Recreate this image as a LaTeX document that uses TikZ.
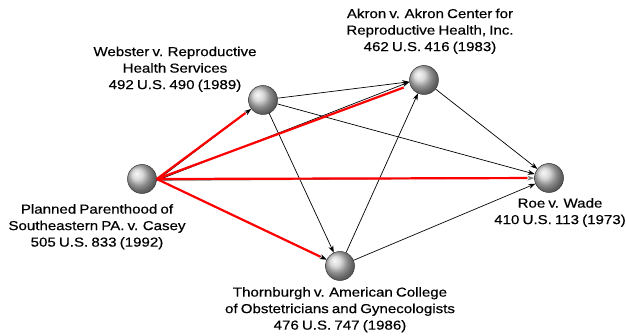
\documentclass[tikz,border=0pt]{standalone}
\usepackage{fontspec}
\setmainfont{Liberation Sans}[FakeStretch=1.16,FakeBold=0.4,WordSpace=0.75]
\usetikzlibrary{arrows.meta}
\begin{document}
\begin{tikzpicture}[x=1pt,y=-1pt,
  ball/.style={circle,minimum size=29pt,inner sep=0pt,shading=ball,ball color=gray!40,draw=gray!40!black,line width=0.5pt},
  lbl/.style={align=center,font=\fontsize{13}{16.5}\selectfont,inner sep=0pt},
  arr/.style={-{Stealth[length=7pt,width=5pt]},line width=0.7pt,black},
  redl/.style={line width=2.2pt,red,shorten >=7pt}]
\useasboundingbox (0,0) rectangle (626,336);
\node[ball] (casey) at (142,179) {};
\node[ball] (web) at (263,100) {};
\node[ball] (akron) at (424,80) {};
\node[ball] (roe) at (549,178) {};
\node[ball] (thorn) at (340,266) {};
\node[lbl,anchor=north] (lcasey) at (97,204) {Planned Parenthood of\\Southeastern PA. v. Casey\\505 U.S. 833 (1992)};
\node[lbl,anchor=south] (lweb) at (175,92) {Webster v. Reproductive\\Health Services\\492 U.S. 490 (1989)};
\node[lbl,anchor=south] (lakron) at (430,54) {Akron v. Akron Center for\\Reproductive Health, Inc.\\462 U.S. 416 (1983)};
\node[lbl,anchor=north] (lroe) at (560,198) {Roe v. Wade\\410 U.S. 113 (1973)};
\node[lbl,anchor=north] (lthorn) at (340,287) {Thornburgh v. American College\\of Obstetricians and Gynecologists\\476 U.S. 747 (1986)};
\draw[arr] (web) -- (akron);
\draw[arr] (web) -- (roe);
\draw[arr] (web) -- (thorn);
\draw[arr] (akron) -- (roe);
\draw[arr] (thorn) -- (akron);
\draw[arr] (thorn) -- (roe);
\draw[arr] ([yshift=-1.5pt]casey.east) -- (web);
\draw[arr] ([yshift=-1.5pt]casey.east) -- ([yshift=-2pt]akron.west);
\draw[arr,gray] ([yshift=-1.5pt]casey.east) -- (roe);
\draw[arr] (casey.east) -- (thorn);
\draw[redl] (casey.east) -- (web);
\draw[redl] (casey.east) -- (akron);
\draw[redl] (casey.east) -- (roe);
\draw[redl] (casey.east) -- (thorn);
\end{tikzpicture}
\end{document}
